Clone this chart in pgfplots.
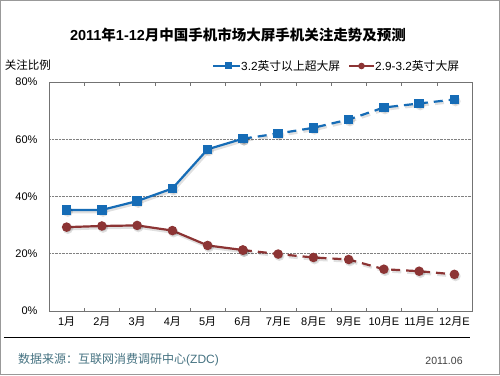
\documentclass[border=0pt]{standalone}
\usepackage{pgfplots}
\pgfplotsset{compat=1.18}
\usepackage{fontspec}
\setmainfont{Liberation Sans}
\newfontfamily\cjk{Noto Sans CJK SC}
\definecolor{bl}{RGB}{22,108,182}
\definecolor{rd}{RGB}{140,52,52}
\definecolor{src}{RGB}{70,115,130}
\begin{document}
\begin{tikzpicture}[x=1pt,y=1pt]
\useasboundingbox (0,0) rectangle (500,375);
\fill[white] (0,0) rectangle (500,375);
\draw[gray!80,line width=1pt] (0.5,0.5) rectangle (499.5,374.5);
\node[font=\cjk\fontsize{14.5}{16}\selectfont\bfseries] at (238,340) {{\rmfamily\bfseries 2011}年{\rmfamily\bfseries 1-12}月中国手机市场大屏手机关注走势及预测};
\node[font=\cjk\fontsize{11.5}{13}\selectfont] at (28,310) {关注比例};
% legend
\draw[bl,line width=2pt] (213,309) -- (240,309);
\fill[bl] (224.5,305.5) rectangle (231.5,312.5);
\node[anchor=west,inner sep=0pt,font=\fontsize{11.8}{13}\selectfont] at (241,309) {3.2{\cjk 英寸以上超大屏}};
\draw[rd,line width=2pt] (349,309) -- (374,309);
\fill[rd] (361.5,309) circle (3.3);
\node[anchor=west,inner sep=0pt,font=\fontsize{11.8}{13}\selectfont] at (375,309) {2.9-3.2{\cjk 英寸大屏}};
\node[anchor=west,inner sep=0pt,text=src,font=\fontsize{12}{13}\selectfont] at (18,15) {{\cjk 数据来源：互联网消费调研中心}(ZDC)};
\node[text=black!75,font=\fontsize{10.5}{12}\selectfont] at (444,14) {2011.06};
\node[fill=black, draw=none, minimum width=466pt, minimum height=1.4pt, inner sep=0pt, outer sep=0pt, anchor=west] at (4,37.5) {};
\begin{axis}[
  at={(49pt,64pt)}, anchor=south west,
  width=423pt, height=229pt, scale only axis,
  xmin=0.5, xmax=12.5, ymin=0, ymax=80,
  axis line style={draw=gray!90!black},
  xtick={1,...,12},
  xticklabels={1{\cjk 月},2{\cjk 月},3{\cjk 月},4{\cjk 月},5{\cjk 月},6{\cjk 月},7{\cjk 月}E,8{\cjk 月}E,9{\cjk 月}E,10{\cjk 月}E,11{\cjk 月}E,12{\cjk 月}E},
  major tick length=0pt,
  extra x ticks={1.5,2.5,3.5,4.5,5.5,6.5,7.5,8.5,9.5,10.5,11.5},
  extra x tick labels={},
  extra x tick style={major tick length=3.5pt, tick align=inside, tick style={gray!90!black}, grid=none},
  ytick={0,20,40,60,80},
  yticklabels={0\%,20\%,40\%,60\%,80\%},
  yticklabel style={xshift=-8pt},
  xticklabel style={yshift=-2pt},
  tick label style={font=\fontsize{11}{13}\selectfont},
  ymajorgrids, grid style={gray, densely dotted, line width=0.6pt},
  clip=false,
  after end axis/.code={
    \draw[black, line width=1.4pt] ([xshift=-45pt,yshift=-26.5pt]rel axis cs:0,0) -- ([xshift=-2pt,yshift=-26.5pt]rel axis cs:1,0);
  },
]
\pgfplotsset{shad/.style={black, line width=3pt, opacity=0.12, forget plot, shift={(1.2pt,-1.8pt)}, mark=*, mark size=3.5}}
\addplot[shad] coordinates {(1,35.3)(2,35.3)(3,38.4)(4,42.8)(5,56.5)(6,60.2)};
\addplot[shad, dash pattern=on 9pt off 6pt, mark options={solid}] coordinates {(6,60.2)(7,62)(8,64)(9,66.9)(10,71.1)(11,72.5)(12,73.9)};
\addplot[shad] coordinates {(1,29.3)(2,29.7)(3,29.9)(4,28.1)(5,22.9)(6,21.3)};
\addplot[shad, dash pattern=on 9pt off 6pt, mark options={solid}] coordinates {(6,21.3)(7,19.9)(8,18.7)(9,18)(10,14.6)(11,13.9)(12,12.8)};
\addplot[bl, line width=2.2pt, mark=square*, mark size=3.6] coordinates {(1,35.3)(2,35.3)(3,38.4)(4,42.8)(5,56.5)(6,60.2)};
\addplot[bl, line width=2.2pt, dash pattern=on 9pt off 6pt, mark=square*, mark size=3.6, mark options={solid}] coordinates {(6,60.2)(7,62)(8,64)(9,66.9)(10,71.1)(11,72.5)(12,73.9)};
\addplot[rd, line width=2.2pt, mark=*, mark size=3.6] coordinates {(1,29.3)(2,29.7)(3,29.9)(4,28.1)(5,22.9)(6,21.3)};
\addplot[rd, line width=2.2pt, dash pattern=on 9pt off 6pt, mark=*, mark size=3.6, mark options={solid}] coordinates {(6,21.3)(7,19.9)(8,18.7)(9,18)(10,14.6)(11,13.9)(12,12.8)};
\end{axis}
\end{tikzpicture}
\end{document}
